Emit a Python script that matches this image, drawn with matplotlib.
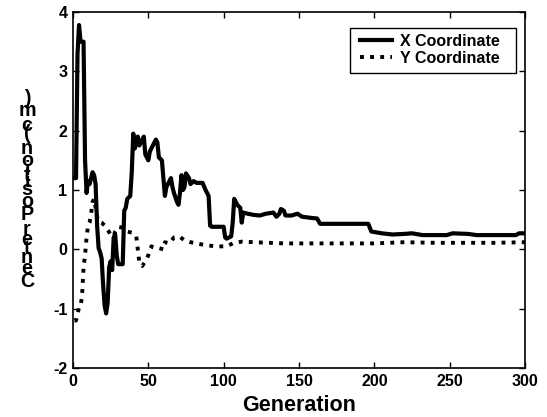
import matplotlib
matplotlib.use("Agg")
import matplotlib.pyplot as plt
from matplotlib.font_manager import FontProperties
from matplotlib.patches import Rectangle

plt.rcParams['font.family'] = ['Liberation Sans', 'DejaVu Sans']
plt.rcParams['font.weight'] = 'bold'
plt.rcParams['axes.unicode_minus'] = False

# X coordinate (generation, value)
x_gen = [1, 2, 3, 4, 5, 7, 8, 9, 10, 11, 12, 13, 14, 15, 16, 17, 18, 19, 20, 21,
         22, 23, 24, 25, 26, 27, 28, 29, 30, 33, 34, 35, 36, 38, 39, 40, 41, 42, 43, 44,
         45, 47, 48, 49, 50, 51, 53, 55, 56, 57, 59, 60, 61, 62, 64, 65, 66, 67, 69, 70,
         71, 72, 73, 74, 75, 77, 78, 80, 82, 86, 88, 90, 91, 92, 100, 101, 102, 105, 106, 107,
         109, 111, 112, 113, 116, 120, 124, 128, 133, 135, 137, 138, 140, 141, 145, 149, 152, 158, 162, 164,
         196, 198, 205, 212, 220, 225, 232, 248, 252, 262, 268, 294, 296, 300]
x_val = [1.2, 1.2, 3.3, 3.78, 3.5, 3.5, 1.5, 0.95, 1.15, 1.1, 1.2, 1.3, 1.25, 1.1, 0.4, 0.02, -0.05, -0.15, -0.6, -0.95,
         -1.08, -0.9, -0.3, -0.2, -0.35, 0.2, 0.25, -0.1, -0.25, -0.25, 0.65, 0.7, 0.85, 0.9, 1.3, 1.95, 1.7, 1.8, 1.9, 1.75,
         1.8, 1.9, 1.6, 1.55, 1.5, 1.65, 1.75, 1.85, 1.8, 1.55, 1.5, 1.2, 0.9, 1.05, 1.15, 1.2, 1.05, 0.95, 0.8, 0.75,
         0.95, 1.25, 1.0, 1.05, 1.28, 1.2, 1.1, 1.15, 1.12, 1.12, 1.0, 0.9, 0.4, 0.38, 0.38, 0.2, 0.18, 0.22, 0.45, 0.85,
         0.75, 0.7, 0.45, 0.62, 0.6, 0.58, 0.57, 0.6, 0.62, 0.55, 0.6, 0.68, 0.65, 0.57, 0.57, 0.6, 0.55, 0.53, 0.52, 0.43,
         0.43, 0.3, 0.27, 0.25, 0.26, 0.27, 0.24, 0.24, 0.27, 0.26, 0.24, 0.24, 0.27, 0.27]

# Y coordinate (generation, value)
y_gen = [1, 2, 3, 4, 5, 6, 7, 8, 9, 10, 11, 12, 13, 14, 15, 16, 17, 19, 21, 23,
         25, 27, 28, 30, 32, 34, 36, 39, 42, 43, 44, 46, 48, 50, 52, 54, 57, 60, 61, 64,
         67, 71, 74, 78, 82, 88, 95, 102, 106, 112, 120, 140, 160, 200, 220, 240, 260, 280, 300]
y_val = [-1.2, -1.2, -1.1, -0.97, -0.95, -0.8, -0.3, -0.1, 0.2, 0.4, 0.45, 0.6, 0.8, 0.85, 0.7, 0.55, 0.47, 0.45, 0.4, 0.33,
         0.25, 0.22, 0.3, 0.38, 0.37, 0.35, 0.3, 0.28, 0.22, 0.0, -0.22, -0.28, -0.2, -0.1, 0.05, 0.03, 0.02, 0.0, 0.12, 0.1,
         0.2, 0.21, 0.15, 0.12, 0.1, 0.07, 0.05, 0.05, 0.1, 0.13, 0.12, 0.1, 0.1, 0.1, 0.12, 0.11, 0.11, 0.11, 0.12]

W, H = 547, 417
fig = plt.figure(figsize=(W / 100, H / 100), dpi=100)
ax = fig.add_axes([73 / W, 49 / H, 452 / W, 356 / H])

ax.plot(x_gen, x_val, color='black', lw=3, solid_joinstyle='round', label='X Coordinate')
ax.plot(y_gen, y_val, color='black', lw=2.8, linestyle=(0, (1, 1.6)), dash_capstyle='butt',
        label='Y Coordinate')

ax.set_xlim(0, 300)
ax.set_ylim(-2, 4)
ax.set_xticks([0, 50, 100, 150, 200, 250, 300])
ax.set_yticks([-2, -1, 0, 1, 2, 3, 4])
ax.tick_params(direction='in', top=True, right=True, length=4, width=1,
               labelsize=11.5, pad=4)
for s in ax.spines.values():
    s.set_linewidth(1.2)
for lab in ax.get_xticklabels() + ax.get_yticklabels():
    lab.set_fontweight('bold')

ax.set_xlabel('Generation', fontsize=15.5, fontweight='bold', labelpad=4.5)

# legend box drawn separately so the side padding can follow the original
def ax_x(px):
    return (px - 73) / 452

def ax_y(py):
    return (368 - py) / 356

ax.add_patch(Rectangle((ax_x(350), ax_y(73)), ax_x(516) - ax_x(350), ax_y(28) - ax_y(73),
                       transform=ax.transAxes, facecolor='white', edgecolor='black',
                       lw=1.0, zorder=4, clip_on=False))
leg = ax.legend(loc='upper left', bbox_to_anchor=(ax_x(360), ax_y(34)), fontsize=11.5,
                frameon=False, handlelength=2.0, borderpad=0, labelspacing=0.12,
                handletextpad=0.5, borderaxespad=0)
leg.set_zorder(5)
for t in leg.get_texts():
    t.set_fontweight('bold')

# y label: upright glyphs stacked bottom-to-top at their advance positions
ylabel = 'Center Position (cm)'
fp = FontProperties(family='Liberation Sans', weight='bold', size=14.2)
renderer = fig.canvas.get_renderer()
widths = [0.0]
for i in range(1, len(ylabel) + 1):
    w, h, d = renderer.get_text_width_height_descent(ylabel[:i].replace(' ', '\u00a0'), fp, ismath=False)
    widths.append(w)
total = widths[-1]
cy = H - 192  # centre in pixels from bottom
start = cy - total / 2
for i, ch in enumerate(ylabel):
    if ch == ' ':
        continue
    yc = start + (widths[i] + widths[i + 1]) / 2
    fig.text(27 / W, yc / H, ch, fontproperties=fp, ha='center', va='center')

fig.savefig('out.png', dpi=100)
